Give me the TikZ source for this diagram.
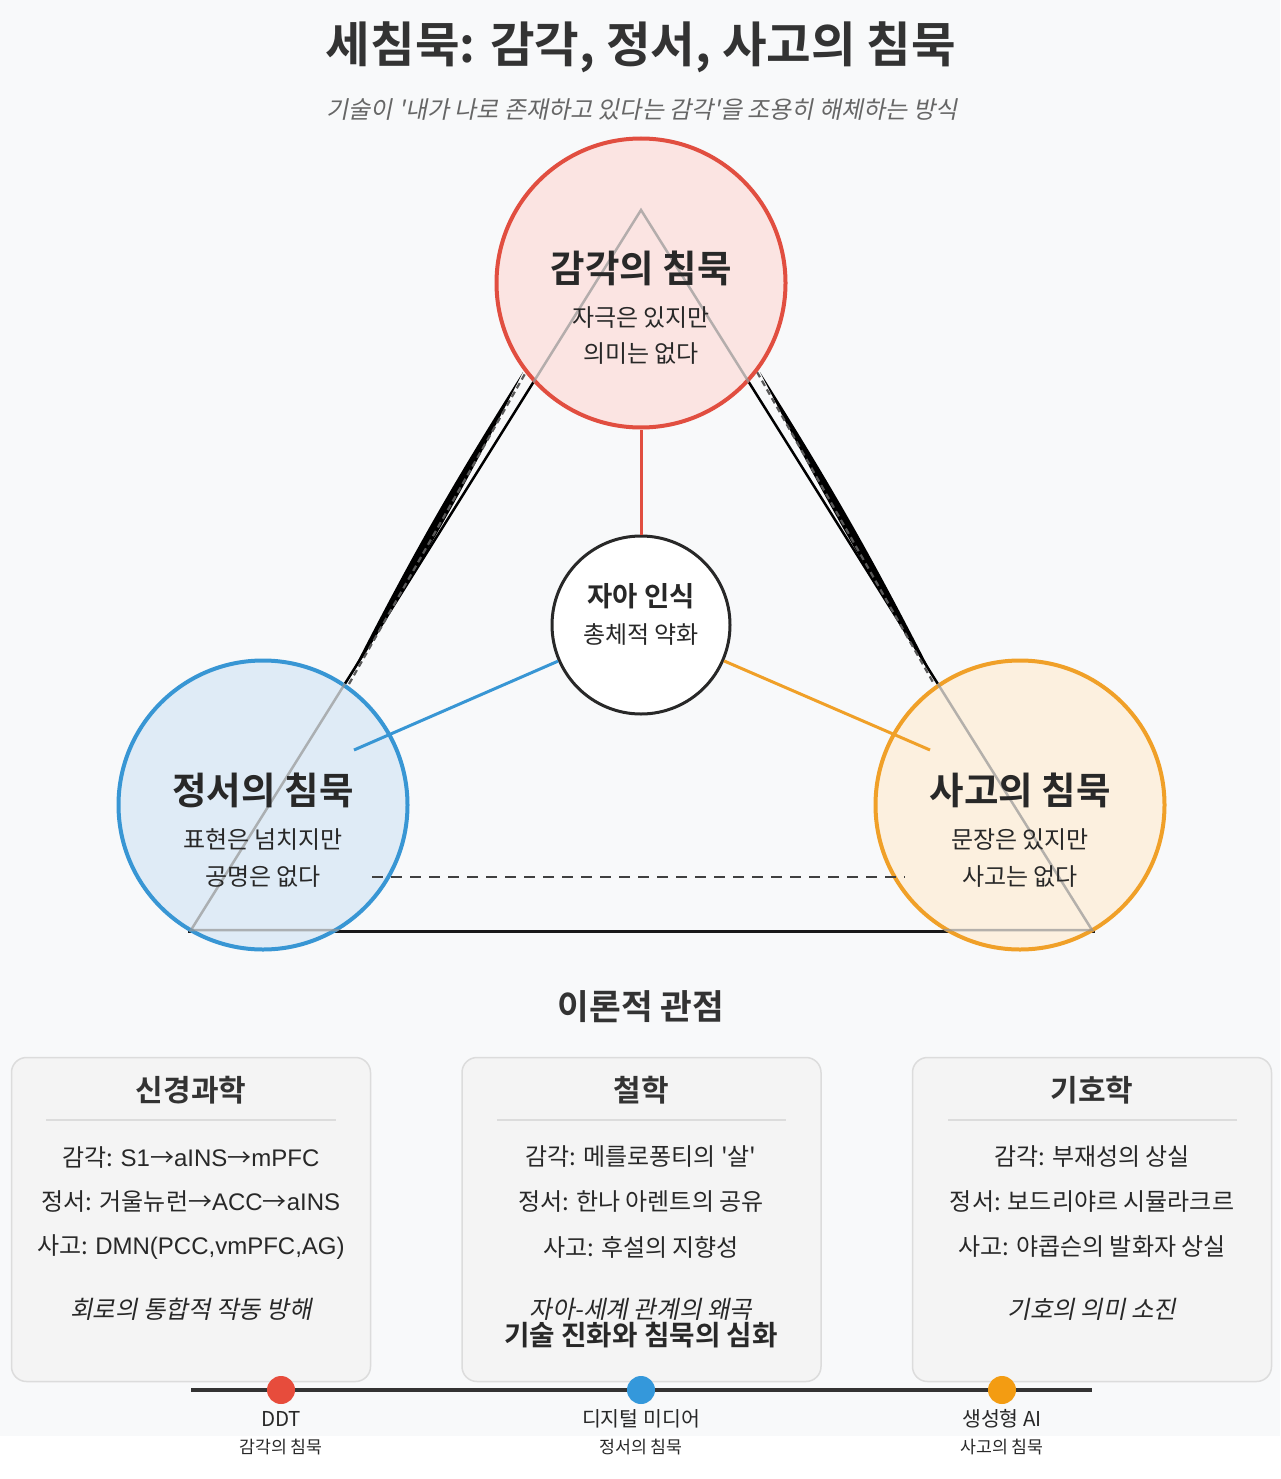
\documentclass[tikz,border=0pt]{standalone}
\usepackage{fontspec}
\setmainfont{Noto Sans CJK KR}[BoldFont={Noto Sans CJK KR Bold}, Ligatures=TeXOff]
\newfontfamily\krit{Noto Sans CJK KR}[FakeSlant=0.2]
\newfontfamily\lat{Liberation Sans}
\usetikzlibrary{calc}
\definecolor{bg}{RGB}{248,249,250}
\definecolor{txt}{RGB}{40,40,40}
\definecolor{ttl}{RGB}{51,51,51}
\definecolor{subg}{RGB}{102,102,102}
\definecolor{cred}{RGB}{225,78,64}
\definecolor{cblue}{RGB}{56,150,212}
\definecolor{corange}{RGB}{240,160,40}
\definecolor{dred}{RGB}{231,76,60}
\definecolor{dblue}{RGB}{52,152,219}
\definecolor{dorange}{RGB}{243,156,18}
\definecolor{fred}{RGB}{251,228,226}
\definecolor{fblue}{RGB}{223,235,246}
\definecolor{forange}{RGB}{252,240,223}
\definecolor{boxfill}{RGB}{244,244,244}
\definecolor{boxline}{RGB}{220,220,220}
\definecolor{tri}{RGB}{150,150,150}
\newcommand{\fsz}[1]{\fontsize{#1}{#1}\selectfont}
\tikzset{
  bigcircle/.style={circle, line width=4pt, minimum size=289pt, inner sep=0pt},
  ctitle/.style={font=\fsz{37.5}\bfseries, text=txt, inner sep=0pt},
  csub/.style={font=\fsz{24}, text=txt, inner sep=0pt},
  panel/.style={draw=boxline, fill=boxfill, line width=1.5pt, rounded corners=15pt, minimum width=359pt, minimum height=324pt, inner sep=0pt},
  ptitle/.style={font=\fsz{30}\bfseries, text=ttl, inner sep=0pt},
  pline/.style={font=\fsz{24}, text=txt, inner sep=0pt},
  pital/.style={font=\fsz{24.5}\krit, text=txt, inner sep=0pt},
  sep/.style={draw=boxline, line width=1.5pt},
  conn/.style={line width=3pt},
  tdot/.style={circle, minimum size=28pt, inner sep=0pt},
  tlab/.style={font=\fsz{20.5}, text=txt, inner sep=0pt},
  tsub/.style={font=\fsz{17.3}, text=txt, inner sep=0pt},
}
\begin{document}
\begin{tikzpicture}[x=1pt,y=-1pt]
\useasboundingbox (0,0) rectangle (1280,1479);
\fill[white] (0,0) rectangle (1280,1479);
\fill[bg] (0,0) rectangle (1280,1436);

% title
\node[font=\fsz{48.5}\bfseries, text=ttl, inner sep=0pt] (title) at (641,47) {세침묵: 감각, 정서, 사고의 침묵};
\node[font=\fsz{24}\krit, text=subg, inner sep=0pt] (subtitle) at (642,110) {기술이 '내가 나로 존재하고 있다는 감각'을 조용히 해체하는 방식};

% triangle
\coordinate (apex) at (641,210);
\coordinate (bl) at (191,930);
\coordinate (br) at (1092,930);
\coordinate (blx) at (188,931);
\coordinate (brx) at (1095,931);
\draw[black, line width=2.5pt] (bl) -- (apex) -- (br);
\draw[black!90, line width=3pt] (blx) -- (brx);
% sketchy edges
\coordinate (l1) at (346,684);
\coordinate (l2) at (523,372);
\coordinate (r1) at (760,372);
\coordinate (r2) at (937,684);
\fill[black] (l1) to[bend left=2.6] (l2) to[bend left=2.6] (l1);
\fill[black] (r1) to[bend left=2.6] (r2) to[bend left=2.6] (r1);
\draw[black!65, line width=2.2pt, dash pattern=on 6pt off 4pt] ($(l1)+(3,0)$) -- ($(l2)+(3,0)$);
\draw[black!65, line width=2.2pt, dash pattern=on 6pt off 4pt] ($(r1)+(-3,0)$) -- ($(r2)+(-3,0)$);

% circles
\node[bigcircle, draw=cred, fill=fred] (sense) at (641,283) {};
\node[bigcircle, draw=cblue, fill=fblue] (emo) at (263,805) {};
\node[bigcircle, draw=corange, fill=forange] (think) at (1020,805) {};

% gray triangle overlay, visible inside the circles only
\begin{scope}
\clip (641,283) circle (146.5) (263,805) circle (146.5) (1020,805) circle (146.5);
\draw[tri, opacity=0.7, line width=2.5pt, line join=miter] (bl) -- (apex) -- (br) -- cycle;
\end{scope}

% dashed base
\coordinate (d1) at (372,877);
\coordinate (d2) at (905,877);
\draw[black!75, line width=2.8pt, dash pattern=on 11pt off 8pt] (d1) -- (d2);

% connectors
\node[circle, draw=txt, fill=white, line width=3pt, minimum size=178pt, inner sep=0pt] (self) at (641,625) {};
\coordinate (bs) at (354,750);
\coordinate (os) at (930,750);
\draw[conn, cred] (sense.south) -- (self.north);
\draw[conn, cblue] (bs) -- (self);
\draw[conn, corange] (os) -- (self);

% circle texts
\node[ctitle] (senseT) at (641,268) {감각의 침묵};
\node[csub] (senseA) at (641,318) {자극은 있지만};
\node[csub] (senseB) at (641,354) {의미는 없다};
\node[ctitle] (emoT) at (263,790) {정서의 침묵};
\node[csub] (emoA) at (263,840) {표현은 넘치지만};
\node[csub] (emoB) at (263,877) {공명은 없다};
\node[ctitle] (thinkT) at (1020,790) {사고의 침묵};
\node[csub] (thinkA) at (1020,840) {문장은 있지만};
\node[csub] (thinkB) at (1020,877) {사고는 없다};
\node[font=\fsz{27.5}\bfseries, text=txt, inner sep=0pt] (selfT) at (641,596) {자아 인식};
\node[font=\fsz{24}, text=txt, inner sep=0pt] (selfS) at (641,634) {총체적 약화};

% theory heading
\node[font=\fsz{34.5}\bfseries, text=ttl, inner sep=0pt] (theory) at (641,1007) {이론적 관점};

% panels
\node[panel] (p1) at (191,1219.5) {};
\node[panel] (p2) at (641.5,1219.5) {};
\node[panel] (p3) at (1092,1219.5) {};

\node[ptitle] (p1t) at (191,1090) {신경과학};
\coordinate (s1a) at (46,1120); \coordinate (s1b) at (336,1120);
\draw[sep] (s1a) -- (s1b);
\node[pline] (p1a) at (191,1157) {감각: {\lat S1}→{\lat aINS}→{\lat mPFC}};
\node[pline] (p1b) at (191,1202) {정서: 거울뉴런→{\lat ACC}→{\lat aINS}};
\node[pline] (p1c) at (191,1247) {사고: {\lat DMN(PCC,vmPFC,AG)}};
\node[pital] (p1d) at (191,1309) {회로의 통합적 작동 방해};

\node[ptitle] (p2t) at (641,1090) {철학};
\coordinate (s2a) at (497,1120); \coordinate (s2b) at (786,1120);
\draw[sep] (s2a) -- (s2b);
\node[pline] (p2a) at (641,1157) {감각: 메를로퐁티의 '살'};
\node[pline] (p2b) at (641,1202) {정서: 한나 아렌트의 공유};
\node[pline] (p2c) at (641,1247) {사고: 후설의 지향성};
\node[pital] (p2d) at (641,1309) {자아-세계 관계의 왜곡};
\node[font=\fsz{27.7}\bfseries, text=txt, inner sep=0pt] (evo) at (641,1335) {기술 진화와 침묵의 심화};

\node[ptitle] (p3t) at (1092,1090) {기호학};
\coordinate (s3a) at (948,1120); \coordinate (s3b) at (1237,1120);
\draw[sep] (s3a) -- (s3b);
\node[pline] (p3a) at (1092,1157) {감각: 부재성의 상실};
\node[pline] (p3b) at (1092,1202) {정서: 보드리야르 시뮬라크르};
\node[pline] (p3c) at (1092,1247) {사고: 야콥슨의 발화자 상실};
\node[pital] (p3d) at (1092,1309) {기호의 의미 소진};

% timeline
\coordinate (t0) at (191,1390);
\coordinate (t1) at (1092,1390);
\draw[ttl, line width=4pt] (t0) -- (t1);
\node[tdot, fill=dred] (ddt) at (281,1390) {};
\node[tdot, fill=dblue] (dm) at (641,1390) {};
\node[tdot, fill=dorange] (ai) at (1002,1390) {};
\node[tlab] (ddtL) at (281,1419) {DDT};
\node[tsub] (ddtS) at (281,1447) {감각의 침묵};
\node[tlab] (dmL) at (641,1419) {디지털 미디어};
\node[tsub] (dmS) at (641,1447) {정서의 침묵};
\node[tlab] (aiL) at (1002,1419) {생성형 AI};
\node[tsub] (aiS) at (1002,1447) {사고의 침묵};
\end{tikzpicture}
\end{document}
